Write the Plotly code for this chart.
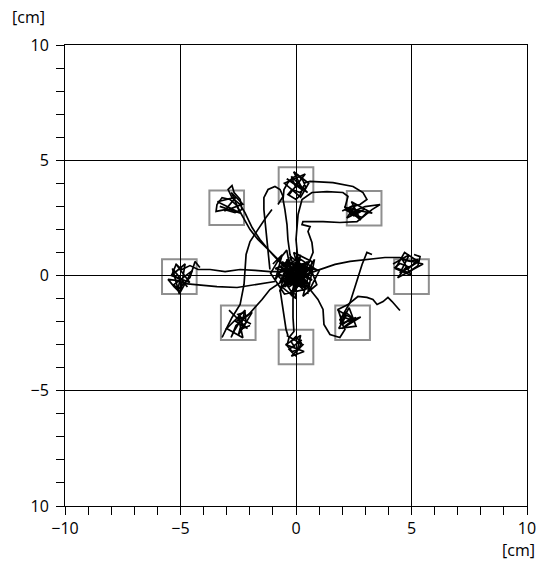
import plotly.graph_objects as go

# ---- data (cm) ----
target_x = [0.0, 2.95, 5.0, 2.45, 0.0, -2.5, -5.05, -3.0]
target_y = [3.95, 2.92, -0.05, -2.05, -3.1, -2.05, -0.05, 2.94]
target_size = 1.5

path_a_x = [-0.17, -0.69, -1.21, -1.65, -1.99, -2.25, -2.42, -2.60, -2.86, -3.20, -3.42, -3.46, -3.07, -2.64, -2.34, -2.42, -2.68, -2.77, -2.94, -2.77, -2.42, -2.21, -1.90, -1.56, -1.13, -0.61]
path_a_y = [0.17, 0.61, 1.13, 1.56, 1.99, 2.43, 2.78, 3.08, 3.30, 3.38, 3.08, 2.78, 2.86, 2.73, 2.86, 3.30, 3.60, 3.90, 3.73, 3.38, 3.08, 2.73, 2.08, 1.56, 1.04, 0.48]

path_b_x = [-1.04, -1.30, -1.65, -1.99, -2.16, -2.21, -2.25, -2.42, -2.77, -3.03, -3.20]
path_b_y = [2.86, 2.52, 1.99, 1.47, 0.91, 0.35, -0.39, -1.26, -1.82, -2.34, -2.69]

path_c_x = [-0.09, -0.26, -0.35, -0.39, -0.48, -0.56, -0.52, -0.35, -0.13, 0.09, 0.30, 0.43, 0.17, -0.17, -0.35, 0.0, 0.17, 0.39, 0.61, 1.60, 2.47, 2.90, 3.07, 2.77, 2.34, 2.12, 2.42, 2.68, 2.99, 3.64, 3.29, 2.64, 1.90, 1.17, 0.30, 0.26, 0.61, 0.52, 0.69, 0.74, 0.48, 0.04]
path_c_y = [0.35, 0.91, 1.56, 2.21, 2.86, 3.30, 3.73, 4.03, 4.25, 4.34, 4.12, 3.82, 3.60, 3.73, 3.51, 3.30, 3.47, 4.03, 4.08, 4.03, 3.86, 3.60, 3.30, 3.08, 2.95, 2.86, 2.69, 2.86, 2.99, 3.08, 2.86, 2.34, 2.30, 2.34, 2.34, 2.21, 2.12, 1.91, 1.43, 1.00, 0.39, 0.13]

path_d_x = [0.09, 0.0, 0.09, 0.26, 0.69, 1.34, 2.03, 2.25, 2.12, 2.47, 2.77, 2.34, 2.86, 3.12]
path_d_y = [0.61, 1.56, 2.65, 3.30, 3.60, 3.64, 3.60, 3.43, 2.95, 2.86, 2.78, 2.65, 2.52, 2.78]

path_e_x = [-1.13, -1.21, -1.30, -1.39, -1.39, -1.21, -0.91, -0.69, -0.56, -0.78]
path_e_y = [0.26, 1.13, 1.99, 2.86, 3.38, 3.73, 3.86, 3.73, 3.43, 3.08]

path_f_x = [0.39, 1.04, 1.69, 2.34, 3.12, 3.85, 4.50, 4.94, 5.28, 5.02, 4.68, 4.94, 4.50, 4.29, 4.85, 5.28, 5.37, 5.11]
path_f_y = [0.04, 0.26, 0.48, 0.61, 0.69, 0.78, 0.78, 0.61, 0.69, 0.43, 0.26, 0.35, 0.52, 0.35, 0.13, 0.43, 0.82, 0.91]

path_g_x = [0.17, 0.61, 0.95, 1.17, 1.21, 1.47, 1.90, 2.12, 1.90, 2.16, 2.42, 2.03, 1.82, 2.25, 2.68, 3.07, 3.33, 3.51, 3.77, 3.98, 4.16, 4.37, 4.50]
path_g_y = [-0.26, -0.61, -1.04, -1.47, -2.12, -2.56, -2.69, -2.34, -1.91, -1.60, -1.82, -2.12, -1.47, -1.26, -0.91, -0.95, -1.04, -1.26, -1.13, -0.95, -1.13, -1.39, -1.52]

path_h_x = [3.29, 3.07, 2.86, 2.68, 2.51, 2.34, 1.99, 2.34, 2.60]
path_h_y = [0.91, 1.00, 0.48, -0.09, -0.69, -1.17, -1.78, -1.91, -1.82]

path_i_x = [-0.48, -1.13, -1.77, -2.42, -3.07, -3.72, -4.24, -4.59, -4.94, -5.19, -5.37, -5.02, -5.11, -4.89, -4.59, -4.37, -4.16]
path_i_y = [0.17, 0.17, 0.22, 0.26, 0.17, 0.26, 0.26, 0.43, 0.26, 0.48, 0.04, -0.17, -0.61, -0.39, -0.09, 0.61, 0.35]

path_j_x = [-0.91, -1.69, -2.55, -3.42, -4.29, -4.81, -5.11, -5.54, -5.28, -5.02]
path_j_y = [-0.26, -0.39, -0.52, -0.48, -0.39, -0.35, -0.22, -0.17, -0.48, -0.74]

path_k_x = [-0.61, -1.13, -1.47, -1.77, -2.08, -2.42, -2.64, -2.81, -2.60, -2.29, -2.51, -2.21, -2.16, -2.42, -1.99]
path_k_y = [-0.26, -0.61, -1.04, -1.39, -1.73, -1.99, -2.34, -2.69, -2.17, -1.91, -1.69, -1.60, -2.04, -2.34, -2.17]

path_l_x = [-0.09, -0.13, -0.13, -0.09, -0.30, -0.39, -0.17, 0.13, 0.22, 0.0, -0.22, -0.04]
path_l_y = [-0.39, -1.04, -1.82, -2.43, -2.69, -3.04, -3.30, -3.21, -2.91, -2.65, -2.86, -3.12]

path_m_x = [-0.69, -0.56, -0.43, -0.35]
path_m_y = [-0.61, -1.47, -2.34, -2.60]

center_x = [-0.2, 0.3, -0.5, 0.1, 0.5, -0.3, -0.8, 0.2, 0.6, -0.1, -0.6, 0.0, 0.4, -0.4, 0.7, -0.2, -0.7, 0.3, -0.1, 0.5, -0.5, 0.1, -0.3, 0.2, 0.8, -0.4, -0.9, 0.0, 0.4, -0.2, -0.6, 0.3, -0.1, 0.6, -0.3, 0.1, -0.5, 0.2, -0.4, 0.0]
center_y = [0.1, -0.3, 0.4, 0.6, 0.2, -0.5, 0.0, -0.1, -0.4, 0.3, 0.6, -0.6, 0.5, -0.2, 0.1, 0.8, -0.3, 0.2, -0.3, -0.6, 0.1, 0.4, 0.0, 0.7, 0.3, 0.5, 0.3, 0.1, -0.2, -0.7, -0.1, 0.4, 0.0, 0.6, 0.3, -0.4, -0.4, 0.2, 0.7, -0.1]

center2_x = [0.1, -0.4, 0.3, -0.2, 0.5, -0.6, 0.0, 0.4, -0.3, 0.2, -0.5, 0.6, -0.1, 0.3, -0.7, 0.1, 0.5, -0.2, -0.4, 0.2, 0.7, -0.3, 0.0, -0.6, 0.4, -0.1, 0.3, -0.5, 0.1, 0.6, -0.2, -0.8, 0.2, 0.4, -0.3, 0.0, 0.5, -0.4, 0.2, -0.1]
center2_y = [-0.2, 0.3, 0.5, -0.4, 0.0, 0.2, 0.7, -0.3, -0.1, 0.4, -0.5, 0.3, 0.1, -0.6, 0.4, -0.2, 0.6, 0.2, -0.3, 0.0, -0.2, 0.6, -0.4, -0.2, 0.3, 0.5, -0.1, 0.0, 0.2, -0.5, -0.2, 0.1, 0.5, 0.1, 0.4, -0.5, -0.3, 0.2, -0.2, 0.3]

center3_x = [-1.0, -0.6, -0.9, -0.3, -0.7, 0.2, -0.2, 0.8, 0.5, 1.0, 0.6, 0.9, 0.3, 0.7, -0.1, 0.4, -0.5, -1.1, -0.8, -0.4, 0.0, -0.6, 0.1]
center3_y = [0.5, 0.9, -0.2, 0.8, -0.7, 0.9, -0.9, 0.7, -0.8, 0.2, 0.4, -0.4, -0.9, 0.6, 1.0, -0.6, -0.8, 0.1, 0.6, 1.1, -1.0, -0.5, 0.0]

# scribbles inside the target boxes
sc_top_x = [-0.3, 0.4, -0.5, 0.2, 0.55, -0.1, 0.3, -0.4, 0.1, 0.5, -0.2, 0.0]
sc_top_y = [3.5, 4.4, 4.0, 3.4, 4.0, 4.5, 3.7, 4.2, 3.9, 3.6, 4.3, 3.8]
sc_tr_x = [2.0, 2.6, 2.2, 3.0, 2.5, 2.1, 2.8, 2.4, 3.3, 2.3, 2.7]
sc_tr_y = [2.8, 3.1, 2.5, 2.9, 2.6, 3.0, 2.4, 3.2, 2.7, 2.9, 2.6]
sc_r_x = [4.2, 4.9, 4.5, 5.3, 4.7, 4.3, 5.0, 4.6, 5.5, 4.4, 4.8]
sc_r_y = [0.5, 0.9, 0.1, 0.6, 1.0, 0.3, 0.0, 0.7, 0.5, -0.1, 0.4]
sc_l_x = [-5.2, -4.6, -5.4, -4.8, -5.0, -5.3, -4.5, -5.05, -5.35, -4.7]
sc_l_y = [0.5, -0.3, 0.0, 0.5, -0.7, -0.4, 0.2, -0.8, 0.3, -0.5]
sc_bl_x = [-2.9, -2.1, -2.6, -1.9, -2.5, -2.2, -3.0, -2.3, -2.5, -1.95]
sc_bl_y = [-1.5, -2.3, -2.0, -1.6, -2.6, -1.5, -2.3, -2.7, -1.8, -2.1]
sc_b_x = [-0.4, 0.3, -0.2, 0.35, -0.45, 0.2, 0.0, -0.3, 0.25]
sc_b_y = [-2.6, -3.0, -3.5, -3.3, -3.0, -2.6, -3.5, -3.2, -2.8]
sc_br_x = [1.8, 2.5, 2.0, 2.8, 1.9, 2.3, 2.6, 1.85, 2.2]
sc_br_y = [-1.5, -1.9, -2.3, -1.8, -2.1, -1.4, -2.2, -2.3, -1.7]
sc_tl_x = [-3.3, -2.4, -2.8, -2.3, -3.1, -2.6, -3.4, -2.5]
sc_tl_y = [3.0, 2.7, 3.6, 3.1, 2.8, 3.4, 3.2, 2.75]

paths = [
    (path_a_x, path_a_y), (path_b_x, path_b_y), (path_c_x, path_c_y),
    (path_d_x, path_d_y), (path_e_x, path_e_y), (path_f_x, path_f_y),
    (path_g_x, path_g_y), (path_h_x, path_h_y), (path_i_x, path_i_y),
    (path_j_x, path_j_y), (path_k_x, path_k_y), (path_l_x, path_l_y),
    (path_m_x, path_m_y), (center_x, center_y), (center2_x, center2_y),
    (center3_x, center3_y),
    (sc_top_x, sc_top_y), (sc_tr_x, sc_tr_y), (sc_r_x, sc_r_y),
    (sc_l_x, sc_l_y), (sc_bl_x, sc_bl_y), (sc_b_x, sc_b_y),
    (sc_br_x, sc_br_y), (sc_tl_x, sc_tl_y),
]

tick_vals = [-10, -5, 0, 5, 10]
x_tick_text = ["\u221210", "\u22125", "0", "5", "10"]
y_tick_text = ["10", "\u22125", "0", "5", "10"]

FONT = "Open Sans, Noto Sans, sans-serif"

fig = go.Figure()
for px_, py_ in paths:
    fig.add_trace(go.Scatter(x=px_, y=py_, mode="lines",
                             line=dict(color="black", width=1.7),
                             hoverinfo="skip", showlegend=False))

half = target_size / 2
for cx, cy in zip(target_x, target_y):
    fig.add_shape(type="rect", xref="x", yref="y",
                  x0=cx - half, x1=cx + half, y0=cy - half, y1=cy + half,
                  line=dict(color="#8f8f8f", width=2), layer="below")

axis_common = dict(
    range=[-10, 10], tickvals=tick_vals, automargin=False,
    showgrid=True, gridcolor="black", gridwidth=1,
    zeroline=True, zerolinecolor="black", zerolinewidth=1,
    showline=True, linecolor="black", linewidth=1, mirror=True,
    ticks="outside", ticklen=8, tickcolor="black", tickwidth=1,
    minor=dict(dtick=1, tick0=0, ticks="outside", ticklen=8,
               tickcolor="black", showgrid=False),
    tickfont=dict(family=FONT, size=16, color="black"),
    fixedrange=True,
)

fig.update_layout(
    width=541, height=565,
    margin=dict(l=65, r=14, t=45, b=59),
    plot_bgcolor="white", paper_bgcolor="white",
    xaxis=dict(ticktext=x_tick_text, **axis_common),
    yaxis=dict(ticktext=y_tick_text, ticklabelstandoff=4, **axis_common),
    annotations=[
        dict(text="[cm]", xref="paper", yref="paper", x=-0.08, y=1.061,
             xanchor="center", yanchor="middle", showarrow=False,
             font=dict(family=FONT, size=16, color="black")),
        dict(text="[cm]", xref="paper", yref="paper", x=1.022, y=-0.095,
             xanchor="right", yanchor="middle", showarrow=False,
             font=dict(family=FONT, size=16, color="black")),
    ],
)

fig.write_html(
    "out.html",
    config={"displayModeBar": False},
    post_script="document.body.style.margin='0';document.body.style.overflow='hidden';",
)
